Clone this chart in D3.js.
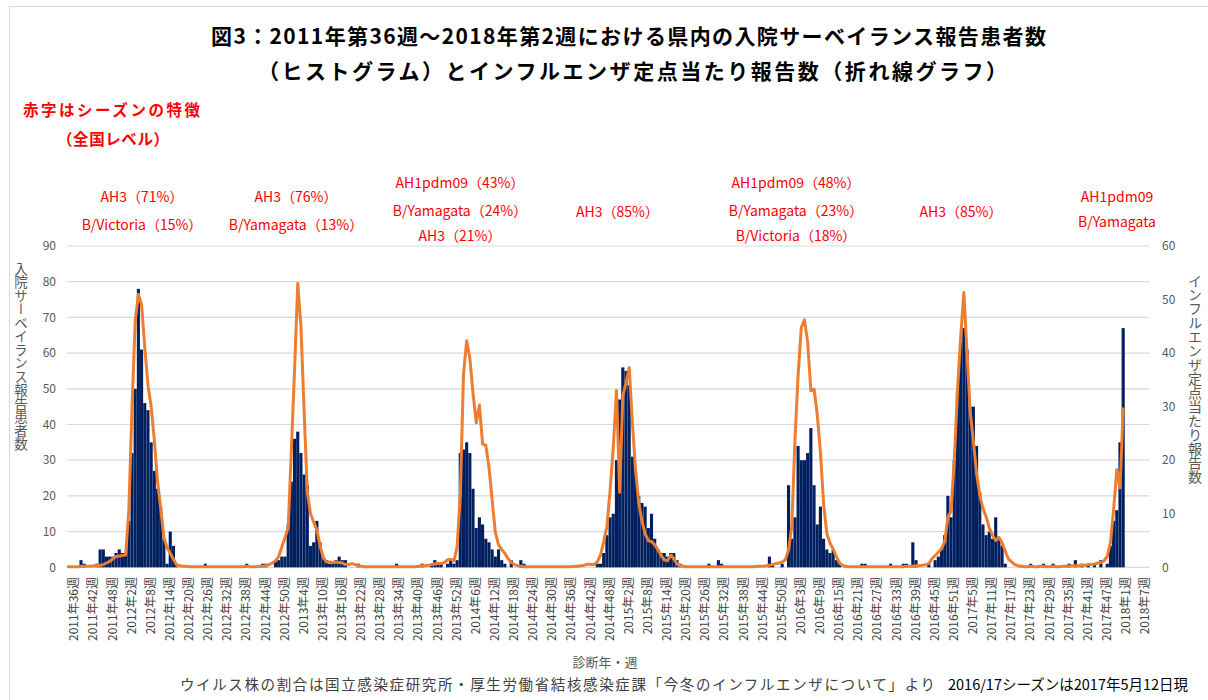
<!DOCTYPE html>
<html><head><meta charset="utf-8">
<script src="https://cdn.jsdelivr.net/npm/d3@7"></script>
<style>
html,body{margin:0;padding:0;background:#fff;}
svg{display:block;}
text{font-family:"Noto Sans CJK JP","Noto Sans",sans-serif;}
</style></head><body>
<svg id="chart" width="1208" height="700"></svg>
<script>
// ---------------- DATA ----------------
const startYear = 2011, startWeek = 36, nCategories = 340;
const weeksInYear = {2011:52, 2012:52, 2013:52, 2014:52, 2015:53, 2016:52, 2017:52, 2018:52};

// hospitalised surveillance reports (bars, left axis)
const patients = [
  0,0,0,0,2,1,0,0,0,1,
  5,5,3,3,3,4,5,4,4,13,
  32,50,78,61,46,44,35,27,22,17,
  8,1,10,6,1,0,0,0,0,0,
  0,0,0,1,0,0,0,0,0,0,
  0,0,0,0,0,0,1,0,0,0,
  0,1,1,0,0,2,2,3,3,12,
  24,36,38,32,26,23,6,7,13,7,
  3,2,1,1,2,3,2,2,0,0,
  0,1,0,0,0,0,0,0,0,0,
  0,0,0,1,0,0,0,0,0,0,
  0,1,0,0,1,2,1,1,0,1,
  2,1,2,32,33,35,32,22,11,14,
  12,8,7,5,3,5,2,1,0,2,
  0,0,2,1,0,0,0,0,0,0,
  0,0,0,0,0,0,0,0,0,0,
  0,0,0,0,0,0,1,1,4,9,
  14,15,30,47,56,55,51,31,27,20,
  18,17,11,15,8,5,4,4,3,4,
  4,2,1,0,0,0,0,0,0,0,
  0,1,0,0,2,1,0,0,0,0,
  0,0,0,0,0,0,0,0,0,0,
  3,1,0,0,1,0,23,8,14,34,
  30,30,32,39,23,12,17,8,5,4,
  5,2,1,0,0,0,0,0,0,1,
  1,0,0,0,0,0,0,0,1,0,
  0,0,1,1,0,7,2,0,0,0,
  1,0,2,3,5,9,20,14,30,49,
  63,67,61,45,45,34,21,12,9,10,
  8,14,8,6,1,0,0,0,0,0,
  0,0,1,0,0,0,1,0,0,1,
  0,0,0,0,1,0,2,0,1,0,
  1,0,1,0,2,0,1,6,13,16,
  35,67,null,null,null,null,null,null,null,null
];

// influenza reports per sentinel (line, right axis)
const perSentinel = [
  0.1,0.1,0.1,0.1,0.2,0.2,0.2,0.2,0.3,0.3,
  0.4,0.5,0.8,1.1,1.6,2.0,2.1,2.2,2.3,10.7,
  30,46,51,49,41,34,30,23.7,16,11,
  5.5,3.7,2.6,1.5,0.4,0.3,0.2,0.2,0.1,0.1,
  0.1,0.1,0.1,0.1,0.1,0.1,0.1,0.1,0.1,0.1,
  0.1,0.1,0.1,0.1,0.1,0.1,0.2,0.1,0.1,0.1,
  0.2,0.2,0.3,0.5,0.8,1.2,2.0,3.8,5.5,7.4,
  22,37,53,45,29,14,10,8.4,7,4,
  1.8,1,1,0.9,1,0.9,0.8,0.5,0.5,0.7,
  0.5,0.3,0.2,0.1,0.1,0.1,0.1,0.1,0.1,0.1,
  0.1,0.1,0.1,0.1,0.1,0.1,0.1,0.1,0.1,0.1,
  0.2,0.3,0.3,0.4,0.5,0.6,0.7,0.7,0.9,1.4,
  1.5,1.2,3.8,13.5,36,42.3,39,32.5,27,30.3,
  23,22.8,18.7,12.5,6.5,4.2,3.3,2.6,1.6,0.9,
  0.5,0.3,0.2,0.1,0.1,0.1,0.1,0.1,0.1,0.1,
  0.1,0.1,0.1,0.1,0.1,0.1,0.1,0.1,0.1,0.2,
  0.2,0.3,0.4,0.6,0.5,0.5,1,2.3,4.8,7.6,
  14.4,22.4,33,14,32,34.5,37.3,27,18,12,
  8.6,6.3,5,4.8,4.2,3.3,2.2,1.4,1.2,2.3,
  1.6,0.6,0.3,0.2,0.1,0.1,0.1,0.1,0.1,0.1,
  0.1,0.1,0.1,0.1,0.1,0.1,0.1,0.1,0.1,0.1,
  0.1,0.1,0.1,0.1,0.1,0.1,0.2,0.2,0.2,0.3,
  0.4,0.5,0.7,0.8,1,1.4,3.3,7.6,23.7,36,
  44.8,46.2,42,33,33.3,28.5,21.5,11.8,6.3,4.5,
  3.4,2,0.8,0.3,0.2,0.1,0.1,0.1,0.1,0.1,
  0.1,0.1,0.1,0.1,0.1,0.1,0.1,0.1,0.1,0.1,
  0.1,0.1,0.1,0.2,0.2,0.2,0.3,0.3,0.4,0.5,
  0.7,1.6,2.2,2.8,3.5,4.8,9.4,10.5,20,33,
  43,51.3,40,29,23.5,17.5,13.5,11,9.4,7.3,
  6,5,5.6,4.6,3,1.5,1,0.5,0.3,0.2,
  0.1,0.1,0.2,0.1,0.1,0.2,0.2,0.1,0.1,0.2,
  0.1,0.1,0.2,0.2,0.2,0.3,0.3,0.3,0.4,0.4,
  0.5,0.5,0.6,0.8,0.9,1.2,2.1,4.6,10.8,18.2,
  14.8,29.6,null,null,null,null,null,null,null,null
];

const tickLabels = [
  "2011年36週","2011年42週","2011年48週",
  "2012年2週","2012年8週","2012年14週","2012年20週","2012年26週","2012年32週","2012年38週","2012年44週","2012年50週",
  "2013年4週","2013年10週","2013年16週","2013年22週","2013年28週","2013年34週","2013年40週","2013年46週","2013年52週",
  "2014年6週","2014年12週","2014年18週","2014年24週","2014年30週","2014年36週","2014年42週","2014年48週",
  "2015年2週","2015年8週","2015年14週","2015年20週","2015年26週","2015年32週","2015年38週","2015年44週","2015年50週",
  "2016年3週","2016年9週","2016年15週","2016年21週","2016年27週","2016年33週","2016年39週","2016年45週","2016年51週",
  "2017年5週","2017年11週","2017年17週","2017年23週","2017年29週","2017年35週","2017年41週","2017年47週",
  "2018年1週","2018年7週"
];
const leftTicks = [0,10,20,30,40,50,60,70,80,90];
const rightTicks = [0,10,20,30,40,50,60];

const titleLines = [
  "図3：2011年第36週～2018年第2週における県内の入院サーベイランス報告患者数",
  "（ヒストグラム）とインフルエンザ定点当たり報告数（折れ線グラフ）"
];
const noteHeader = ["赤字はシーズンの特徴", "（全国レベル）"];
const seasonNotes = [
  ["AH3（71%）", "B/Victoria（15%）"],
  ["AH3（76%）", "B/Yamagata（13%）"],
  ["AH1pdm09（43%）", "B/Yamagata（24%）", "AH3（21%）"],
  ["AH3（85%）"],
  ["AH1pdm09（48%）", "B/Yamagata（23%）", "B/Victoria（18%）"],
  ["AH3（85%）"],
  ["AH1pdm09", "B/Yamagata"]
];
const leftAxisTitle = "入院サーベイランス報告患者数";
const rightAxisTitle = "インフルエンザ定点当たり報告数";
const xAxisTitle = "診断年・週";
const footnoteA = "ウイルス株の割合は国立感染症研究所・厚生労働省結核感染症課「今冬のインフルエンザについて」より";
const footnoteB = "2016/17シーズンは2017年5月12日現";

// ---------------- BUILD CATEGORIES ----------------
const categories = [];
{
  let y = startYear, w = startWeek;
  for (let k = 0; k < nCategories; k++) {
    categories.push(y + "年" + w + "週");
    w++;
    if (w > weeksInYear[y]) { w = 1; y++; }
  }
}

// ---------------- LAYOUT ----------------
const svg = d3.select("#chart");
const plotLeft = 68.3, plotRight = 1148.7, plotTop = 246, plotBottom = 567.3;

svg.append("rect").attr("x", 9.5).attr("y", 6.5).attr("width", 1220).attr("height", 720)
  .attr("fill", "#fff").attr("stroke", "#d9d9d9").attr("stroke-width", 1);

const x = d3.scalePoint().domain(categories).range([plotLeft, plotRight]);
const yL = d3.scaleLinear().domain([0, 90]).range([plotBottom, plotTop]);
const yR = d3.scaleLinear().domain([0, 60]).range([plotBottom, plotTop]);
const step = x.step();

// gridlines
svg.append("g").selectAll("line").data(leftTicks).join("line")
  .attr("x1", 67).attr("x2", 1149.5)
  .attr("y1", d => yL(d)).attr("y2", d => yL(d))
  .attr("stroke", "#d9d9d9").attr("stroke-width", 1.2);

// bars
svg.append("g").selectAll("rect")
  .data(patients.map((v, i) => ({c: categories[i], v})).filter(d => d.v != null && d.v > 0))
  .join("rect")
  .attr("x", d => x(d.c) - step / 2)
  .attr("width", step * 0.98)
  .attr("y", d => yL(d.v))
  .attr("height", d => yL(0) - yL(d.v))
  .attr("fill", "#002060");

// line
const lineGen = d3.line()
  .defined(d => d.v != null)
  .x(d => x(d.c)).y(d => yR(d.v));
svg.append("path")
  .datum(perSentinel.map((v, i) => ({c: categories[i], v})))
  .attr("d", lineGen)
  .attr("fill", "none").attr("stroke", "#ed7d31").attr("stroke-width", 3)
  .attr("stroke-linejoin", "round").attr("stroke-linecap", "round");

// left axis labels
svg.append("g").selectAll("text").data(leftTicks).join("text")
  .attr("x", 56).attr("y", d => yL(d)).attr("dy", "0.35em")
  .attr("text-anchor", "end").attr("font-size", 12).attr("fill", "#595959")
  .text(d => d);
// right axis labels
svg.append("g").selectAll("text").data(rightTicks).join("text")
  .attr("x", 1162).attr("y", d => yR(d)).attr("dy", "0.35em")
  .attr("text-anchor", "start").attr("font-size", 12).attr("fill", "#595959")
  .text(d => d);

// x tick labels
svg.append("g").selectAll("text").data(tickLabels).join("text")
  .attr("transform", d => `translate(${x(d) + 4.5},577) rotate(-90)`)
  .attr("text-anchor", "end").attr("dominant-baseline", "central")
  .attr("font-size", 12).attr("fill", "#404040")
  .text(d => d);

// axis titles
svg.append("text").attr("x", 21).attr("y", 262)
  .style("writing-mode", "vertical-rl")
  .attr("font-size", 13.5).attr("fill", "#595959")
  .text(leftAxisTitle);
svg.append("text").attr("x", 1195).attr("y", 274)
  .style("writing-mode", "vertical-rl")
  .attr("font-size", 14).attr("fill", "#595959")
  .text(rightAxisTitle);
svg.append("text").attr("x", 605).attr("y", 667).attr("text-anchor", "middle")
  .attr("font-size", 13).attr("fill", "#595959").text(xAxisTitle);

// title
const titleLayout = [{x: 211, y: 44, w: 835}, {x: 258, y: 79, w: 749}];
svg.append("g").selectAll("text").data(titleLines).join("text")
  .attr("x", (d, i) => titleLayout[i].x).attr("y", (d, i) => titleLayout[i].y)
  .attr("textLength", (d, i) => titleLayout[i].w).attr("lengthAdjust", "spacing")
  .attr("font-size", 21).attr("font-weight", "bold").attr("fill", "#000")
  .text(d => d);

// note header (red)
const headerLayout = [{x: 23, y: 116, w: 177}, {x: 57, y: 145, w: 112}];
svg.append("g").selectAll("text").data(noteHeader).join("text")
  .attr("x", (d, i) => headerLayout[i].x).attr("y", (d, i) => headerLayout[i].y)
  .attr("textLength", (d, i) => headerLayout[i].w).attr("lengthAdjust", "spacing")
  .attr("font-size", 15.5).attr("font-weight", "bold").attr("fill", "#ff0000")
  .text(d => d);

// season notes (red)
const noteX = [142, 296, 460, 617.5, 796, 961, 1117];
const noteY = [[202, 230], [202, 230], [188, 216, 241], [217], [188, 216, 241], [217], [202, 227]];
seasonNotes.forEach((lines, s) => {
  svg.append("g").selectAll("text").data(lines).join("text")
    .attr("x", noteX[s]).attr("y", (d, j) => noteY[s][j])
    .attr("text-anchor", "middle").attr("font-size", 14).attr("fill", "#ff0000")
    .text(d => d);
});

// footnote
svg.append("text").attr("x", 180).attr("y", 690)
  .attr("textLength", 755).attr("lengthAdjust", "spacing")
  .attr("font-size", 14.5).attr("fill", "#404040").text(footnoteA);
svg.append("text").attr("x", 948).attr("y", 690)
  .attr("font-size", 14.5).attr("fill", "#000").text(footnoteB);
</script>
</body></html>
